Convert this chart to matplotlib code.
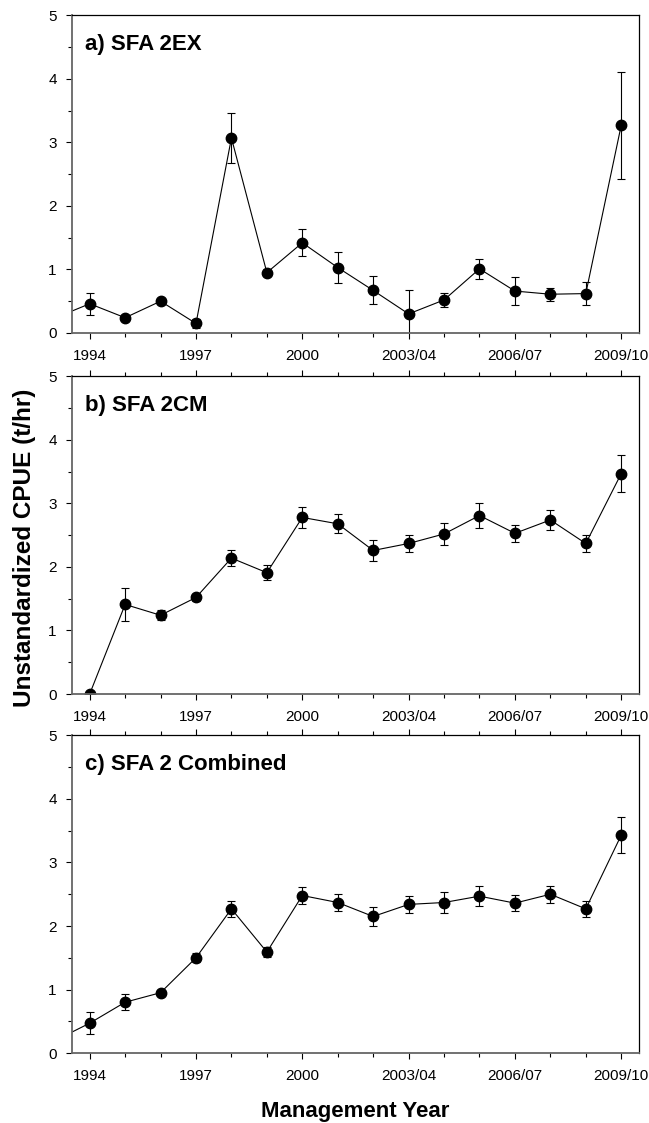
import matplotlib.pyplot as plt
from matplotlib.ticker import MultipleLocator

plt.rcParams['font.family'] = ['Liberation Sans', 'DejaVu Sans']

# management years (1993 only shows as the line entering from the left edge)
years_a = [1993, 1994, 1995, 1996, 1997, 1998, 1999, 2000, 2001, 2002,
           2003, 2004, 2005, 2006, 2007, 2008, 2009]
cpue_a = [0.23, 0.46, 0.24, 0.50, 0.15, 3.07, 0.95, 1.42, 1.03, 0.67,
          0.30, 0.52, 1.01, 0.66, 0.61, 0.62, 3.27]
err_a = [0.0, 0.17, 0.03, 0.04, 0.07, 0.40, 0.06, 0.215, 0.25, 0.22,
         0.37, 0.115, 0.155, 0.22, 0.105, 0.175, 0.845]

years_b = [1994, 1995, 1996, 1997, 1998, 1999, 2000, 2001, 2002,
           2003, 2004, 2005, 2006, 2007, 2008, 2009]
cpue_b = [0.0, 1.41, 1.24, 1.52, 2.14, 1.91, 2.78, 2.68, 2.26,
          2.37, 2.52, 2.81, 2.53, 2.74, 2.37, 3.47]
err_b = [0.0, 0.255, 0.08, 0.06, 0.13, 0.115, 0.165, 0.15, 0.16,
         0.14, 0.175, 0.19, 0.135, 0.15, 0.14, 0.29]

years_c = years_a
cpue_c = [0.19, 0.47, 0.80, 0.95, 1.50, 2.27, 1.59, 2.48, 2.37, 2.15,
          2.34, 2.37, 2.47, 2.36, 2.50, 2.27, 3.43]
err_c = [0.0, 0.17, 0.13, 0.04, 0.07, 0.125, 0.08, 0.135, 0.13, 0.15,
         0.135, 0.165, 0.16, 0.125, 0.135, 0.125, 0.285]

tick_years = [1994, 1997, 2000, 2003, 2006, 2009]
tick_labels = ['1994', '1997', '2000', '2003/04', '2006/07', '2009/10']

panels = [
    ('a) SFA 2EX', years_a, cpue_a, err_a),
    ('b) SFA 2CM', years_b, cpue_b, err_b),
    ('c) SFA 2 Combined', years_c, cpue_c, err_c),
]
bottoms = [0.7035, 0.382, 0.0623]

fig = plt.figure(figsize=(6.49, 11.23), dpi=100)

for i, (title, x, y, e) in enumerate(panels):
    ax = fig.add_axes([0.1109, bottoms[i], 0.8736, 0.2828])
    ax.errorbar(x, y, yerr=e, fmt='o-', color='black', markersize=7.5,
                linewidth=0.8, elinewidth=0.8, capsize=3, capthick=0.8)
    ax.set_xlim(1993.5, 2009.5)
    ax.set_ylim(0, 5)
    ax.set_xticks(tick_years)
    ax.set_xticklabels(tick_labels)
    ax.xaxis.set_minor_locator(MultipleLocator(1))
    ax.yaxis.set_major_locator(MultipleLocator(1))
    ax.yaxis.set_minor_locator(MultipleLocator(0.5))
    ax.tick_params(which='major', direction='out', length=4, width=0.8,
                   labelsize=11)
    ax.tick_params(axis='x', which='major', pad=7.5)
    ax.tick_params(axis='y', which='major', pad=7)
    ax.tick_params(which='minor', direction='out', length=3, width=0.8)
    if i > 0:
        ax.tick_params(which='both', top=True)
    for s in ['left', 'bottom']:
        ax.spines[s].set_color('#666666')
        ax.spines[s].set_linewidth(1.3)
    for s in ['top', 'right']:
        ax.spines[s].set_color('black')
        ax.spines[s].set_linewidth(0.9)
    ax.text(0.023, 0.89, title, transform=ax.transAxes, fontsize=16,
            fontweight='bold', va='baseline', ha='left')

fig.text(0.037, 0.512, 'Unstandardized CPUE (t/hr)', rotation=90,
         fontsize=17.5, fontweight='bold', ha='center', va='center')
fig.text(0.547, 0.0055, 'Management Year', fontsize=16,
         fontweight='bold', ha='center', va='baseline')

fig.savefig('out.png', dpi=100)
